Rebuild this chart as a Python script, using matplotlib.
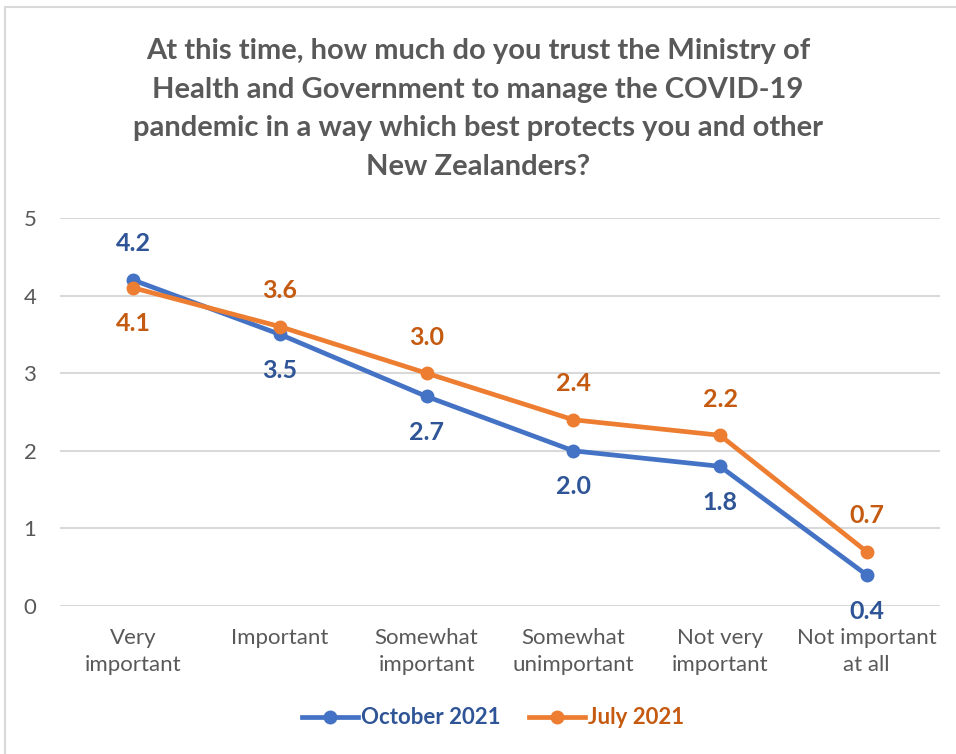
import matplotlib
matplotlib.use("Agg")
import matplotlib.pyplot as plt
from matplotlib.patches import Rectangle
from matplotlib.lines import Line2D

categories = ["Very\nimportant", "Important", "Somewhat\nimportant", "Somewhat\nunimportant", "Not very\nimportant", "Not important\nat all"]
october = [4.2, 3.5, 2.7, 2.0, 1.8, 0.4]
july = [4.1, 3.6, 3.0, 2.4, 2.2, 0.7]
series_names = ["October 2021", "July 2021"]
title = ("At this time, how much do you trust the Ministry of\n"
         "Health and Government to manage the COVID-19\n"
         "pandemic in a way which best protects you and other\n"
         "New Zealanders?")

FONT = ["Lato", "DejaVu Sans"]
blue, blue_dark = "#4472C4", "#2F5597"
orange, orange_dark = "#ED7D31", "#C55A11"
gray = "#595959"

fig = plt.figure(figsize=(9.56, 7.54), dpi=100)
fig.patches.append(Rectangle((5/956, -0.01), 1.0, 1 - 7/754 + 0.01, transform=fig.transFigure,
                             fill=False, edgecolor="#D9D9D9", linewidth=1.5))
ax = fig.add_axes([60/956, 1 - 606/754, 880/956, (606 - 218)/754])
x = list(range(len(categories)))

ax.set_xlim(-0.5, len(categories) - 0.5)
ax.set_ylim(0, 5)
ax.set_yticks(range(0, 6))
ax.yaxis.grid(True, color="#D9D9D9", linewidth=1.5)
ax.set_axisbelow(True)
for s in ax.spines.values():
    s.set_visible(False)
ax.tick_params(length=0)
ax.tick_params(axis="y", pad=17)
ax.tick_params(axis="x", pad=16)
ax.set_xticks(x)
ax.set_xticklabels(categories, fontsize=16, color=gray, family=FONT, linespacing=1.45)
for lab in ax.get_yticklabels():
    lab.set_fontsize(16); lab.set_color(gray); lab.set_family(FONT)

ax.plot(x, october, color=blue, linewidth=3.4, marker="o", markersize=9, solid_capstyle="round", zorder=3)
ax.plot(x, july, color=orange, linewidth=3.4, marker="o", markersize=9, solid_capstyle="round", zorder=4)

for i, (o, j) in enumerate(zip(october, july)):
    o_above = o >= j
    ax.annotate(f"{o:.1f}", (i, o), xytext=(0, 26 if o_above else -26), textcoords="offset points",
                ha="center", va="center", fontsize=18, fontweight="bold", color=blue_dark, family=FONT)
    ax.annotate(f"{j:.1f}", (i, j), xytext=(0, -26 if o_above else 26), textcoords="offset points",
                ha="center", va="center", fontsize=18, fontweight="bold", color=orange_dark, family=FONT)

fig.text(0.5, 1 - 109/754, title, ha="center", va="center", fontsize=21, fontweight="bold",
         color=gray, family=FONT, linespacing=1.6)

handles = [Line2D([], [], color=blue, linewidth=3.4, marker="o", markersize=9),
           Line2D([], [], color=orange, linewidth=3.4, marker="o", markersize=9)]
leg = fig.legend(handles, series_names, loc="center", bbox_to_anchor=(0.516, 1 - 718/754), ncol=2,
                 frameon=False, handlelength=2.5, handletextpad=0.15, columnspacing=1.3,
                 prop={"family": FONT, "size": 16, "weight": "bold"})
for t, c in zip(leg.get_texts(), [blue_dark, orange_dark]):
    t.set_color(c)

fig.savefig("out.png", dpi=100)
